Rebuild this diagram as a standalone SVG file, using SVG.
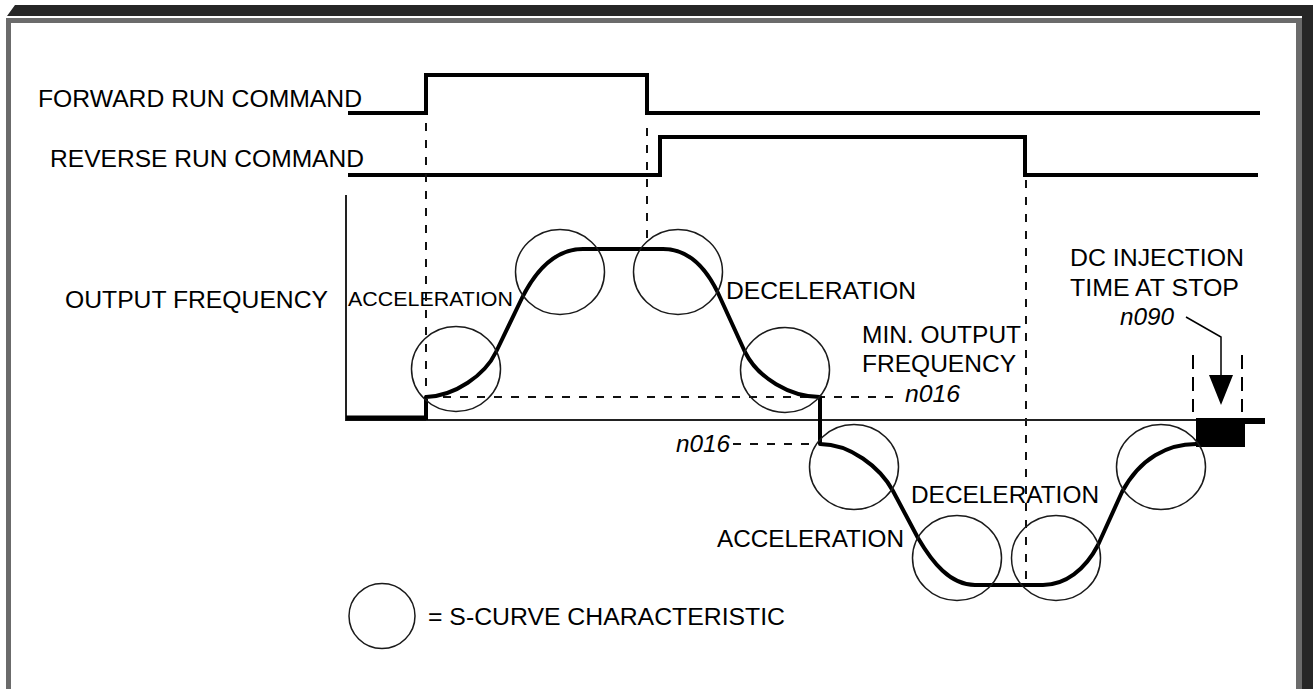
<svg xmlns="http://www.w3.org/2000/svg" width="1314" height="689" viewBox="0 0 1314 689">
<style>
  text { font-family: "Liberation Sans", Arial, sans-serif; font-size: 24px; fill: #000; }
  .it { font-style: italic; }
  .sig { fill: none; stroke: #000; stroke-width: 4; stroke-linejoin: miter; stroke-linecap: butt; }
  .curve { fill: none; stroke: #000; stroke-width: 4; stroke-linejoin: round; }
  .dash { fill: none; stroke: #111; stroke-width: 2; stroke-dasharray: 8 9; }
  .axis { fill: none; stroke: #222; stroke-width: 2; }
  .sc { fill: none; stroke: #1a1a1a; stroke-width: 1.5; }
</style>
<rect x="0" y="0" width="1314" height="689" fill="#fff"/>
<g id="frame">
  <polygon points="7,16 15,5 1313,5 1313,689 1302,689 1302,16" fill="#262626"/>
  <rect x="6" y="18" width="1296" height="5" fill="#6b6b6b"/>
  <rect x="6" y="18" width="5" height="671" fill="#6b6b6b"/>
  <rect x="1296" y="18" width="6" height="671" fill="#6b6b6b"/>
</g>
<g id="labels">
  <text x="38" y="107" textLength="324" lengthAdjust="spacingAndGlyphs">FORWARD RUN COMMAND</text>
  <text x="50" y="167" textLength="314" lengthAdjust="spacingAndGlyphs">REVERSE RUN COMMAND</text>
  <text x="65" y="308" textLength="263" lengthAdjust="spacingAndGlyphs">OUTPUT FREQUENCY</text>
  <text x="348" y="306" style="font-size:21px" textLength="165" lengthAdjust="spacingAndGlyphs">ACCELERATION</text>
  <text x="726" y="299" textLength="190" lengthAdjust="spacingAndGlyphs">DECELERATION</text>
  <text x="862" y="343" textLength="159" lengthAdjust="spacingAndGlyphs">MIN. OUTPUT</text>
  <text x="862" y="372" textLength="154" lengthAdjust="spacingAndGlyphs">FREQUENCY</text>
  <text class="it" x="905" y="402" textLength="55" lengthAdjust="spacingAndGlyphs">n016</text>
  <text x="1070" y="266" textLength="174" lengthAdjust="spacingAndGlyphs">DC INJECTION</text>
  <text x="1070" y="296" textLength="169" lengthAdjust="spacingAndGlyphs">TIME AT STOP</text>
  <text class="it" x="1120" y="325" textLength="54" lengthAdjust="spacingAndGlyphs">n090</text>
  <text class="it" x="676" y="452" textLength="54" lengthAdjust="spacingAndGlyphs">n016</text>
  <text x="911" y="503" textLength="188" lengthAdjust="spacingAndGlyphs">DECELERATION</text>
  <text x="717" y="547" textLength="187" lengthAdjust="spacingAndGlyphs">ACCELERATION</text>
  <text x="428" y="625" style="font-size:23px" textLength="357" lengthAdjust="spacingAndGlyphs">= S-CURVE CHARACTERISTIC</text>
</g>
<g id="connectors">
  <path class="sig" d="M348 113 H426 V75 H647 V113 H1260"/>
  <path class="sig" d="M348 175 H660 V137 H1025 V175 H1258"/>
  <path class="dash" d="M426 123 V397"/>
  <path class="dash" d="M647 128 V249"/>
  <path class="dash" d="M1026 180 V585"/>
  <path class="dash" d="M426 397 H900"/>
  <path class="dash" d="M733 444 H818"/>
  <path class="axis" d="M346 195 V420 H1196"/>
  <path fill="none" stroke="#000" stroke-width="5" d="M346 418 H426"/>
  <path class="curve" d="M426 420 V397 C455 396 485 375 496 352 L522 298 C536 270 555 249 583 249 L663 249 C690 249 707 270 718 293 L745 352 C758 378 790 397 820 397 L820 444 C850 444 880 467 893 491 L918 538 C932 562 950 585 975 585 L1043 585 C1065 585 1085 570 1098 545 L1122 492 C1140 458 1168 444 1196 444"/>
  <g id="dc-injection">
    <rect x="1196" y="419" width="49" height="28" fill="#000"/>
    <rect x="1196" y="418" width="69" height="6" fill="#000"/>
    <path fill="none" stroke="#000" stroke-width="1.5" d="M1186 317 L1221 337 V380"/>
    <polygon points="1209,375 1233,375 1221,405" fill="#000"/>
    <path fill="none" stroke="#000" stroke-width="2" stroke-dasharray="14 8" d="M1193 355 V412 M1242 355 V412"/>
  </g>
</g>
<g id="s-curves">
  <ellipse class="sc" cx="456" cy="369" rx="44.5" ry="42.5"/>
  <ellipse class="sc" cx="560" cy="272" rx="44.5" ry="42.5"/>
  <ellipse class="sc" cx="678" cy="272" rx="44.5" ry="42.5"/>
  <ellipse class="sc" cx="785" cy="370" rx="44.5" ry="42.5"/>
  <ellipse class="sc" cx="854" cy="467" rx="44.5" ry="42.5"/>
  <ellipse class="sc" cx="957" cy="558" rx="44.5" ry="42.5"/>
  <ellipse class="sc" cx="1056" cy="558" rx="44.5" ry="42.5"/>
  <ellipse class="sc" cx="1161" cy="467" rx="44.5" ry="42.5"/>
  <ellipse class="sc" cx="382" cy="616" rx="33" ry="32.5"/>
</g>
</svg>
